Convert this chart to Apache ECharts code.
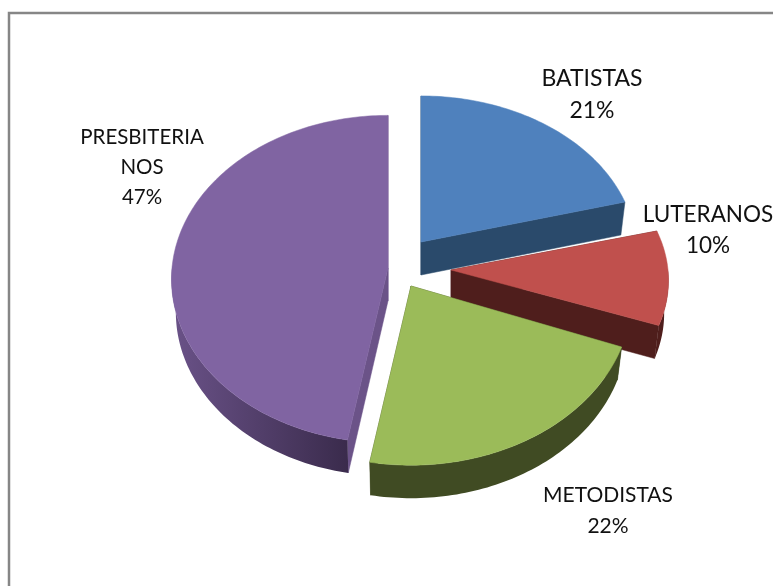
<!DOCTYPE html>
<html><head><meta charset="utf-8">
<style>html,body{margin:0;padding:0;background:#fff}#c{width:773px;height:586px}</style>
<script src="https://cdn.jsdelivr.net/npm/echarts@6/dist/echarts.min.js"></script>
</head><body><div id="c"></div>
<script>
const categories = ['BATISTAS', 'LUTERANOS', 'METODISTAS', 'PRESBITERIA\nNOS'];
// Each one rounds to the printed percentage.
const values = [20.8, 10, 22, 47.2];

// styling and layout, kept apart from the data
const topColors = ['#4F81BD', '#C0504D', '#9BBB59', '#8064A2'];
const wallColors = ['#2A4A6B', '#4F1E1C', '#404B23', ['#6A5288', '#3A2B4C']];
const faceColors = ['#2A4A6B', '#4F1E1C', '#404B23', '#6B5388'];
const slices = [
  { ax: 421, ay: 242, rx: 215, ry: 156, lx: 592, ly: 95, lh: 32, fs: 23 },
  { ax: 451, ay: 270, rx: 217, ry: 152, lx: 708, ly: 230, lh: 31, fs: 22.5 },
  { ax: 411, ay: 286, rx: 220, ry: 167, lx: 608, ly: 511, lh: 31, fs: 21 },
  { ax: 388, ay: 268, rx: 216, ry: 163, lx: 142, ly: 167, lh: 30, fs: 20.5 }
];
const layerOrder = [1, 2, 3, 0];
const depth = 33, persp = 0.068, bottomScale = 0.98;

const total = values.reduce((a, b) => a + b, 0);
const starts = [];
values.reduce((acc, v, i) => { starts[i] = acc; return acc + v; }, 0);

function rim(s, th) {
  const u = Math.sin(th), v = Math.cos(th), w = 1 + persp * v;
  return [s.ax + s.rx * u / w, s.ay - s.ry * v / w];
}
function low(s, p) {
  return [s.ax + (p[0] - s.ax) * bottomScale, p[1] + depth];
}
function renderItem(params, api) {
  const i = params.dataIndex;
  const val = api.value(0);
  const s = slices[i];
  const a0 = starts[i] / total * Math.PI * 2;
  const a1 = (starts[i] + val) / total * Math.PI * 2;
  const steps = Math.ceil((a1 - a0) / 0.02);
  const arc = [];
  for (let k = 0; k <= steps; k++) arc.push(a0 + (a1 - a0) * k / steps);
  const z = layerOrder[i] * 10;
  const apex = [s.ax, s.ay], apexLow = [s.ax, s.ay + depth];
  const children = [];
  [a0, a1].forEach(function (a) {
    const p = rim(s, a);
    children.push({ type: 'polygon', z2: z + 1, silent: true,
      shape: { points: [apex, p, low(s, p), apexLow] },
      style: { fill: faceColors[i], stroke: faceColors[i], lineWidth: 0.5 } });
  });
  const front = arc.filter(a => Math.cos(a) <= 0.02);
  if (front.length > 1) {
    const up = front.map(a => rim(s, a));
    const dn = up.map(p => low(s, p)).reverse();
    const c = wallColors[i];
    const fill = Array.isArray(c)
      ? new echarts.graphic.LinearGradient(0, 0, 1, 0, [
          { offset: 0, color: c[0] }, { offset: 1, color: c[1] }])
      : c;
    children.push({ type: 'polygon', z2: z + 2, silent: true,
      shape: { points: up.concat(dn) },
      style: { fill: fill } });
  }
  children.push({ type: 'polygon', z2: z + 3, silent: true,
    shape: { points: [apex].concat(arc.map(a => rim(s, a))) },
    style: { fill: topColors[i], stroke: topColors[i], lineWidth: 0.5 } });
  children.push({ type: 'text', z2: 100, silent: true,
    style: {
      text: categories[i] + '\n' + Math.round(val / total * 100) + '%',
      x: s.lx, y: s.ly, align: 'center', verticalAlign: 'middle',
      fill: '#111', font: s.fs + 'px Lato', lineHeight: s.lh
    } });
  return { type: 'group', children: children };
}

const chart = echarts.init(document.getElementById('c'));
chart.setOption({
  animation: false,
  backgroundColor: '#fff',
  graphic: [{
    type: 'rect', z: -1, silent: true,
    shape: { x: 9, y: 13, width: 900, height: 700 },
    style: { fill: '#fff', stroke: '#868686', lineWidth: 2.5 }
  }],
  series: [{
    type: 'custom',
    coordinateSystem: 'none',
    renderItem: renderItem,
    data: values.map(v => [v])
  }]
});
</script></body></html>
